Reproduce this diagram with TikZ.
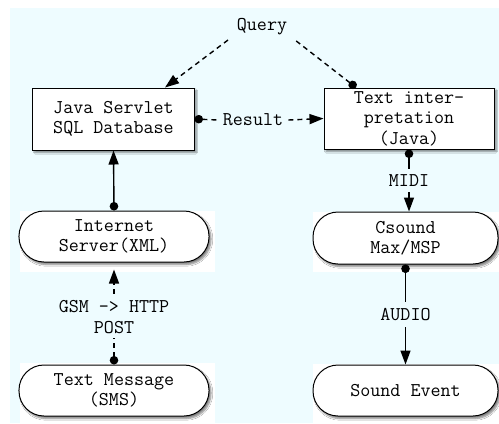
\documentclass[tikz,border=0pt]{standalone}
\usepackage{fontspec}
\usetikzlibrary{arrows.meta,shadows.blur,calc}
\definecolor{bgc}{RGB}{238,252,255}
\tikzset{
  lbl/.style={font=\ttfamily\fontsize{19.5bp}{20.5bp}\selectfont, align=center, inner sep=0pt},
  boxnode/.style={lbl, draw, line width=1bp, fill=white, rectangle,
     blur shadow={shadow xshift=2bp, shadow yshift=-2.5bp, shadow blur steps=6, shadow opacity=50}},
  roundnode/.style={boxnode, rounded corners=25bp},
  conn/.style={line width=1.4bp},
  dsh/.style={conn, dash pattern=on 5bp off 4bp},
  dotstart/.style={{Circle[length=8.5bp,width=8.5bp]}-},
  arrowend/.style={-{Triangle[length=14bp,width=10bp]}},
  dotarrow/.style={{Circle[length=8.5bp,width=8.5bp]}-{Triangle[length=14bp,width=10bp]}},
  cut/.style={lbl, fill=bgc, inner xsep=2bp, inner ysep=6bp}
}
\begin{document}
\begin{tikzpicture}[x=1bp,y=-1bp]
\useasboundingbox (0,0) rectangle (499,423);
\fill[bgc] (10,8) rectangle (499,423);
% white backdrops
\fill[white] (20,211) rectangle (215,272);
\fill[white] (313,212) rectangle (499,272);
\fill[white] (20,363) rectangle (215,423);
\fill[white] (313,364) rectangle (499,423);
% nodes
\node[boxnode, minimum width=161bp, minimum height=62bp] (js) at (113.5,119) {Java Servlet\\SQL Database};
\node[boxnode, minimum width=170bp, minimum height=61bp] (ti) at (409,118.5) {Text inter-\\pretation\\(Java)};
\node[roundnode, minimum width=190bp, minimum height=51bp] (is) at (114,236.5) {Internet\\Server(XML)};
\node[roundnode, minimum width=185bp, minimum height=52bp] (cs) at (405.5,238) {Csound\\Max/MSP};
\node[roundnode, minimum width=190bp, minimum height=51bp] (tm) at (114,390.5) {Text Message\\(SMS)};
\node[roundnode, minimum width=185bp, minimum height=51bp] (se) at (405.5,390.5) {Sound Event};
% labels
\node[lbl] (q) at (262,27) {Query};
\node[lbl, inner xsep=5bp] (r) at (253,120) {Result};
\coordinate (qa) at (228,40);
\coordinate (qb) at (295,40);
% connectors
\draw[dsh, arrowend] (qa) -- ([xshift=51.5bp]js.north);
\draw[dsh, dotstart] ([xshift=-53bp]ti.north) -- (qb);
\draw[dsh, dotstart] (js.east) -- (r.west);
\draw[dsh, arrowend] (r.east) -- (ti.west);
\draw[conn, dotarrow] (ti.south) -- node[cut]{MIDI} (ti.south |- cs.north);
\draw[conn, dotarrow] (is.north) -- (js.south);
\draw[dsh, dotarrow] (tm.north) -- node[cut, inner ysep=5bp]{GSM -> HTTP\\POST} ([yshift=-7bp]is.south);
\draw[conn, dotarrow] (cs.south) -- node[cut]{AUDIO} (se.north);
\end{tikzpicture}
\end{document}
